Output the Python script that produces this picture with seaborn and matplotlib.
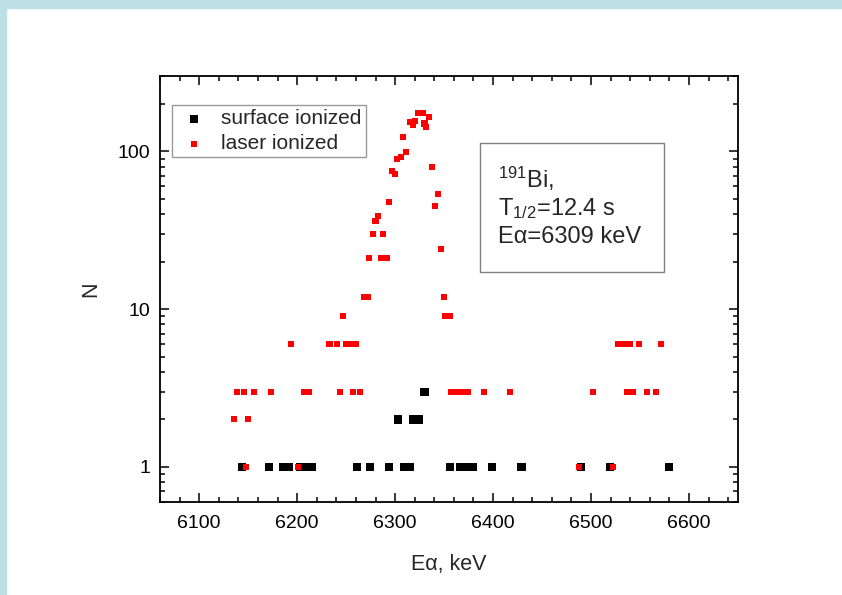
import matplotlib
matplotlib.use("Agg")
import matplotlib.pyplot as plt
import seaborn as sns
import pandas as pd
from matplotlib.patches import Rectangle
from matplotlib.ticker import FixedLocator, FuncFormatter, LogLocator, MultipleLocator

# ---------------- data ----------------
surface_E = [6144, 6171, 6186, 6192, 6203, 6208, 6215, 6261, 6274, 6294,
             6303, 6309, 6315, 6318, 6324, 6330, 6356, 6366, 6372, 6379,
             6399, 6429, 6490, 6519, 6580]
surface_N = [1, 1, 1, 1, 1, 1, 1, 1, 1, 1,
             2, 1, 1, 2, 2, 3, 1, 1, 1, 1,
             1, 1, 1, 1, 1]

laser_E = [6136, 6150, 6139, 6146, 6156, 6173, 6207, 6212, 6244, 6257,
           6264, 6148, 6201, 6194, 6233, 6241, 6250, 6255, 6260, 6247,
           6268, 6272, 6273, 6286, 6292, 6277, 6288, 6280, 6283, 6294,
           6297, 6300, 6302, 6306, 6308, 6311, 6315, 6318, 6320, 6323,
           6328, 6335, 6330, 6332, 6338, 6341, 6344, 6347, 6350, 6351,
           6356, 6357, 6363, 6369, 6374, 6391, 6417, 6488, 6502, 6522,
           6528, 6534, 6540, 6549, 6537, 6543, 6557, 6566, 6571]
laser_N = [2, 2, 3, 3, 3, 3, 3, 3, 3, 3,
           3, 1, 1, 6, 6, 6, 6, 6, 6, 9,
           12, 12, 21, 21, 21, 30, 30, 36, 39, 48,
           75, 72, 89, 92, 124, 99, 153, 146, 155, 174,
           174, 164, 150, 142, 80, 45, 54, 24, 12, 9,
           9, 3, 3, 3, 3, 3, 3, 1, 3, 1,
           6, 6, 6, 6, 3, 3, 3, 3, 6]

series_labels = ["surface ionized", "laser ionized"]
y_tick_values = [1, 10, 100]
x_tick_values = [6100, 6200, 6300, 6400, 6500, 6600]

# ---------------- style ----------------
sns.set_style("ticks")
plt.rcParams["font.family"] = ["Liberation Sans", "DejaVu Sans"]
plt.rcParams["mathtext.fontset"] = "custom"
plt.rcParams["mathtext.rm"] = "Liberation Sans"
plt.rcParams["mathtext.it"] = "Liberation Sans:italic"
plt.rcParams["mathtext.bf"] = "Liberation Sans:bold"

W, H = 842, 595
fig = plt.figure(figsize=(W / 100, H / 100), dpi=100, facecolor="white")

# light blue frame strips
frame_col = "#BCE0E3"
fig.patches.append(Rectangle((0, 1 - 8 / H), 1, 8 / H, transform=fig.transFigure,
                             color=frame_col, zorder=0))
fig.patches.append(Rectangle((0, 0), 6 / W, 1, transform=fig.transFigure,
                             color=frame_col, zorder=0))

L, R, T, B = 160, 738, 76, 502
ax = fig.add_axes([L / W, 1 - B / H, (R - L) / W, (B - T) / H])

df_s = pd.DataFrame({"E": surface_E, "N": surface_N})
df_l = pd.DataFrame({"E": laser_E, "N": laser_N})

sns.scatterplot(data=df_s, x="E", y="N", marker="s", s=34, color="black",
                edgecolor="none", linewidth=0, label=series_labels[0], ax=ax, zorder=3)
sns.scatterplot(data=df_l, x="E", y="N", marker="s", s=19, color="#FF0000",
                edgecolor="none", linewidth=0, label=series_labels[1], ax=ax, zorder=4)

ax.set_yscale("log")
ax.set_xlim(6060, 6650)
ax.set_ylim(0.6, 300)

ax.xaxis.set_major_locator(FixedLocator(x_tick_values))
ax.xaxis.set_minor_locator(MultipleLocator(20))
ax.yaxis.set_major_locator(FixedLocator(y_tick_values))
ax.yaxis.set_major_formatter(FuncFormatter(lambda v, p: f"{v:g}"))
ax.yaxis.set_minor_locator(LogLocator(base=10, subs=range(2, 10)))
ax.yaxis.set_minor_formatter(FuncFormatter(lambda v, p: ""))

ax.tick_params(which="both", direction="in", top=True, right=True,
               width=1.1, labelsize=14, colors="black")
ax.tick_params(which="major", length=6.5, pad=9)
ax.tick_params(which="minor", length=3.5)
ax.tick_params(axis="y", which="major", pad=7)
for sp in ax.spines.values():
    sp.set_visible(True)
    sp.set_linewidth(1.3)
    sp.set_color("black")

ax.set_xlabel("E\u03b1, keV", fontsize=15.5, labelpad=16)
ax.set_ylabel("N", fontsize=15.5, labelpad=12)

leg = ax.legend(loc="upper left", bbox_to_anchor=((172 - L) / (R - L), 1 - (105 - T) / (B - T)),
                borderaxespad=0, fancybox=False, frameon=True, fontsize=15,
                handletextpad=0.45, borderpad=0.2, labelspacing=0.28,
                markerscale=1.0, handlelength=1.7)
leg.get_frame().set_edgecolor("#808080")
leg.get_frame().set_linewidth(1.0)

# annotation box
def ax_x(px):
    return (px - L) / (R - L)

def ax_y(py):
    return 1 - (py - T) / (B - T)

ax.add_patch(Rectangle((ax_x(480), ax_y(272)), ax_x(664) - ax_x(480), ax_y(143) - ax_y(272),
                       transform=ax.transAxes, fill=False, edgecolor="#808080",
                       linewidth=1.0, zorder=5))
tx = ax_x(498)
fs_box = 17
ax.text(tx, ax_y(188), "$\\mathregular{^{191}}$Bi,", transform=ax.transAxes,
        fontsize=fs_box, va="baseline", ha="left")
ax.text(tx, ax_y(215), "T$\\mathregular{_{1/2}}$=12.4 s", transform=ax.transAxes,
        fontsize=fs_box, va="baseline", ha="left")
ax.text(tx, ax_y(243), "E\u03b1=6309 keV", transform=ax.transAxes,
        fontsize=fs_box, va="baseline", ha="left")

fig.savefig("out.png", dpi=100, facecolor="white")
